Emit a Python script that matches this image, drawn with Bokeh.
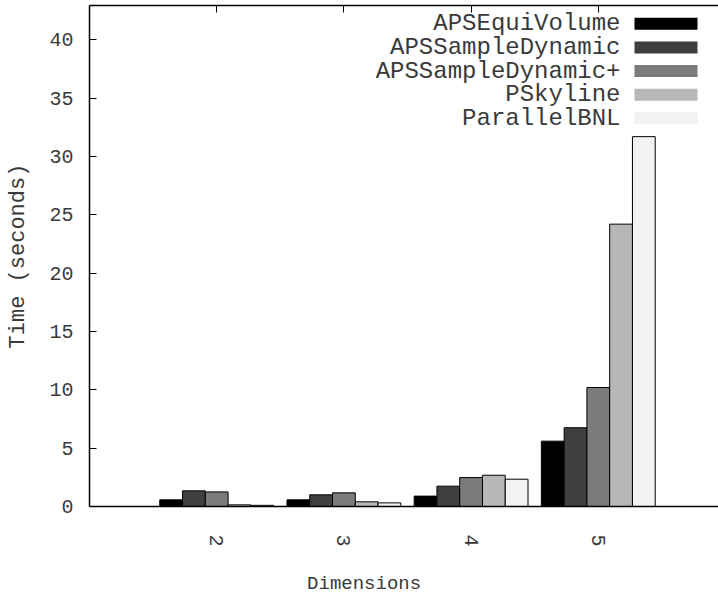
import math
from bokeh.plotting import figure
from bokeh.models import Range1d, LinearAxis, FixedTicker
from bokeh.core.properties import value
from bokeh.embed import file_html
from bokeh.resources import INLINE

# ---- data ----
dims = ["2", "3", "4", "5"]
series = ["APSEquiVolume", "APSSampleDynamic", "APSSampleDynamic+", "PSkyline", "ParallelBNL"]
aps_equi_volume = [0.57, 0.57, 0.89, 5.6]
aps_sample_dynamic = [1.34, 1.0, 1.74, 6.75]
aps_sample_dynamic_plus = [1.25, 1.17, 2.48, 10.2]
pskyline = [0.14, 0.4, 2.68, 24.2]
parallel_bnl = [0.1, 0.31, 2.34, 31.7]
y_ticks = [0, 5, 10, 15, 20, 25, 30, 35, 40]

values = [aps_equi_volume, aps_sample_dynamic, aps_sample_dynamic_plus, pskyline, parallel_bnl]
colors = ["#000000", "#3f3f3f", "#7b7b7b", "#b7b7b7", "#f2f2f2"]

FONT = "Liberation Mono"
TXT = "#3a3a3a"

X0, X1 = -1.0, 3.945
Y0, Y1 = 0.0, 42.94

p = figure(width=718, height=597, output_backend="svg", toolbar_location=None,
           x_range=Range1d(X0, X1), y_range=Range1d(Y0, Y1),
           min_border_left=89, min_border_right=0, min_border_top=5, min_border_bottom=91)
p.outline_line_color = None
p.xgrid.visible = False
p.ygrid.visible = False
p.background_fill_color = "white"

bw = 0.179
groups = list(range(len(dims)))
for i, (name, vals, col) in enumerate(zip(series, values, colors)):
    xs = [g + (i - 2) * bw for g in groups]
    p.vbar(x=xs, top=vals, width=bw, bottom=0, fill_color=col, line_color="black", line_width=1)

# x axis (bottom)
xa = p.xaxis[0]
xa.ticker = FixedTicker(ticks=groups)
xa.major_label_overrides = {g: d for g, d in zip(groups, dims)}
xa.major_label_orientation = -math.pi / 2
xa.major_tick_in = 0
xa.major_tick_out = 0
xa.minor_tick_line_color = None
xa.major_label_standoff = 28
xa.major_label_text_font = FONT
xa.major_label_text_font_size = "20px"
xa.major_label_text_color = TXT
xa.axis_line_color = "black"
xa.axis_line_width = 1.5

# y axis (left)
ya = p.yaxis[0]
ya.ticker = FixedTicker(ticks=y_ticks)
ya.major_tick_in = 7
ya.major_tick_out = 0
ya.minor_tick_line_color = None
ya.major_label_standoff = 16
ya.major_label_text_font = FONT
ya.major_label_text_font_size = "20px"
ya.major_label_text_color = TXT
ya.axis_line_color = "black"
ya.axis_line_width = 1.5
ya.axis_label = "Time (seconds)"
ya.axis_label_text_font = FONT
ya.axis_label_text_font_size = "22px"
ya.axis_label_text_font_style = "normal"
ya.axis_label_text_color = TXT
ya.axis_label_standoff = 15

# top border with mirrored ticks (no labels)
top = LinearAxis(ticker=FixedTicker(ticks=groups), major_label_standoff=0,
                 major_label_text_color=None,
                 major_tick_in=7, major_tick_out=0,
                 minor_tick_line_color=None, axis_line_color="black", axis_line_width=1.5)
top.major_label_overrides = {g: "" for g in groups}
p.add_layout(top, "above")

xpx = (X1 - X0) / 629.0   # data units per pixel horizontally

# x label, set left of the frame centre as in the original (trailing no-break spaces shift it)
lab_axis = LinearAxis(ticker=FixedTicker(ticks=[]),
                      axis_line_color=None, major_tick_in=0, major_tick_out=0,
                      minor_tick_line_color=None, major_label_standoff=0,
                      axis_label="Dimensions" + "\u00a0" * 7, axis_label_standoff=23,
                      axis_label_text_font=FONT, axis_label_text_font_size="19px",
                      axis_label_text_font_style="normal", axis_label_text_color=TXT)
p.add_layout(lab_axis, "below")

# legend (text left, swatch right), placed in the top-right corner
ypx = (Y1 - Y0) / 500.7   # data units per pixel vertically
txt_right = X1 - 98 * xpx
sw_left = X1 - 84 * xpx
sw_right = X1 - 21 * xpx
row_step = 23.6 * ypx
first_row = Y1 - 18.3 * ypx
rows = [first_row - k * row_step for k in range(len(series))]
p.text(x=[txt_right] * len(series), y=rows, text=series, text_align="right",
       text_baseline="middle", text_font=value(FONT), text_font_size="24px", text_color=TXT)
p.quad(left=[sw_left] * len(series), right=[sw_right] * len(series),
       top=[r + 6 * ypx for r in rows], bottom=[r - 6 * ypx for r in rows],
       fill_color=colors, line_color=None)

open("out.html", "w").write(file_html(p, INLINE))
